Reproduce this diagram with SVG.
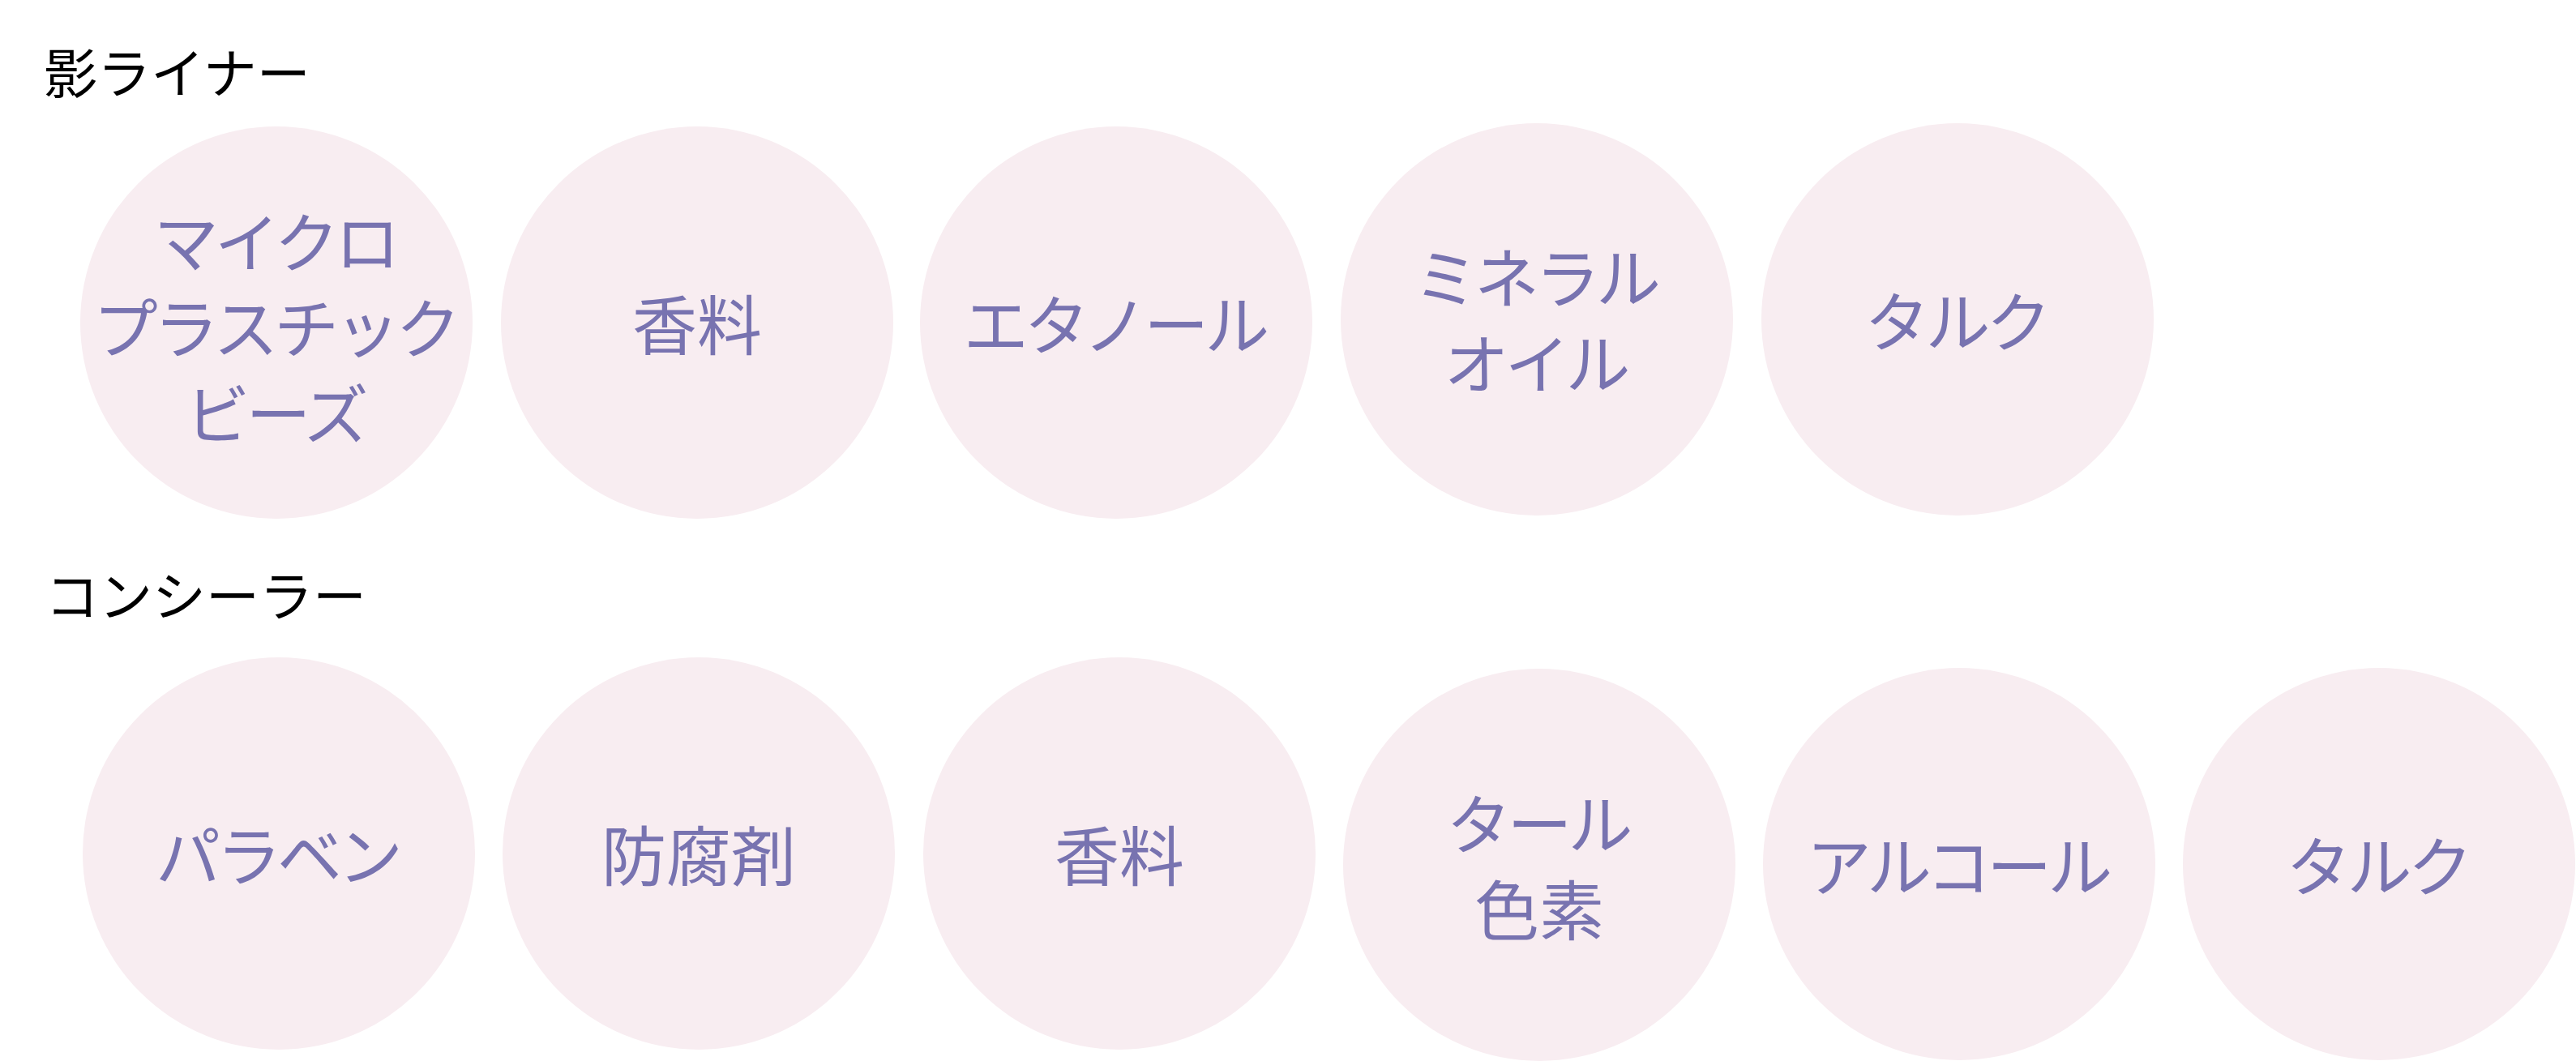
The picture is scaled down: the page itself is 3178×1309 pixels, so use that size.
<svg xmlns="http://www.w3.org/2000/svg" width="3178" height="1309" viewBox="0 0 3178 1309">
<style>
.title{font-family:"Noto Sans CJK JP","Noto Sans",sans-serif;font-size:66px;fill:#000;dominant-baseline:central}
.node circle{fill:#f8edf1}
.node text{font-family:"Noto Sans CJK JP","Noto Sans",sans-serif;font-size:80px;fill:#7873b0;text-anchor:middle;dominant-baseline:central}
.node text.kana{letter-spacing:-5px}
</style>
<rect width="3178" height="1309" fill="#ffffff"/>
<text class="title" x="54" y="86">影ライナー</text>
<text class="title" x="56" y="731">コンシーラー</text>
<g id="nodes-eyeliner">
<g class="node" id="e1"><circle cx="341" cy="398" r="242"/><text class="kana" x="339" y="294">マイクロ</text><text class="kana" x="339" y="400">プラスチック</text><text class="kana" x="339" y="506">ビーズ</text></g>
<g class="node" id="e2"><circle cx="860" cy="398" r="242"/><text x="860" y="396">香料</text></g>
<g class="node" id="e3"><circle cx="1377" cy="398" r="242"/><text class="kana" x="1375" y="396">エタノール</text></g>
<g class="node" id="e4"><circle cx="1896" cy="394" r="242"/><text class="kana" x="1894" y="338">ミネラル</text><text class="kana" x="1894" y="444">オイル</text></g>
<g class="node" id="e5"><circle cx="2415" cy="394" r="242"/><text class="kana" x="2413" y="392">タルク</text></g>
</g>
<g id="nodes-concealer">
<g class="node" id="c1"><circle cx="344" cy="1053" r="242"/><text class="kana" x="342" y="1051">パラベン</text></g>
<g class="node" id="c2"><circle cx="862" cy="1053" r="242"/><text x="862" y="1051">防腐剤</text></g>
<g class="node" id="c3"><circle cx="1381" cy="1053" r="242"/><text x="1381" y="1051">香料</text></g>
<g class="node" id="c4"><circle cx="1899" cy="1067" r="242"/><text class="kana" x="1897" y="1012">タール</text><text x="1899" y="1118">色素</text></g>
<g class="node" id="c5"><circle cx="2417" cy="1066" r="242"/><text class="kana" x="2415" y="1064">アルコール</text></g>
<g class="node" id="c6"><circle cx="2935" cy="1066" r="242"/><text class="kana" x="2933" y="1064">タルク</text></g>
</g>
<g id="connectors"></g>
</svg>
